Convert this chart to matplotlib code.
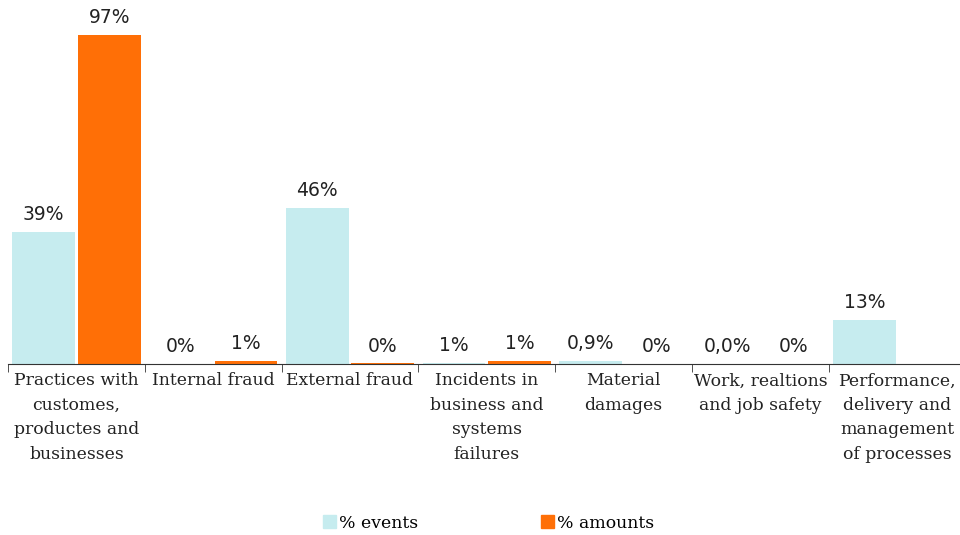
import numpy as np
import matplotlib.pyplot as plt
from matplotlib.patches import Patch

categories = [
    "Practices with\ncustomes,\nproductes and\nbusinesses",
    "Internal fraud",
    "External fraud",
    "Incidents in\nbusiness and\nsystems\nfailures",
    "Material\ndamages",
    "Work, realtions\nand job safety",
    "Performance,\ndelivery and\nmanagement\nof processes",
]
events = [39, 0, 46, 0.4, 0.9, 0.0, 13]
events_labels = ["39%", "0%", "46%", "1%", "0,9%", "0,0%", "13%"]
amounts = [97, 1, 0.2, 1, 0, 0, np.nan]
amounts_labels = ["97%", "1%", "0%", "1%", "0%", "0%", ""]

c_events = "#c6ecef"
c_amounts = "#ff6f06"

fig = plt.figure(figsize=(9.6, 5.35), dpi=100)
ax = fig.add_axes([8 / 960, 0.3196, 957.6 / 960, 0.9537 - 0.3196])

x = np.arange(len(categories))
w = 0.46
ax.bar(x + 0.26, events, width=w, color=c_events)
ax.bar(x + 0.74, amounts, width=w, color=c_amounts)

# value labels above each bar
for i in range(len(categories)):
    ax.annotate(events_labels[i], (x[i] + 0.26, events[i]), xytext=(0, 5.5),
                textcoords="offset points", ha="center", va="bottom",
                fontsize=13.5, color="#222222")
    if amounts_labels[i]:
        ax.annotate(amounts_labels[i], (x[i] + 0.74, amounts[i]), xytext=(0, 5.5),
                    textcoords="offset points", ha="center", va="bottom",
                    fontsize=13.5, color="#222222")

ax.set_xlim(0, len(categories))
ax.set_ylim(0, 100)
ax.set_yticks([])
for s in ["top", "right", "left"]:
    ax.spines[s].set_visible(False)
ax.spines["bottom"].set_color("#333333")

ax.set_xticks(x + 0.5)
ax.set_xticklabels(categories, family="DejaVu Serif", fontsize=12.4,
                   linespacing=1.58, color="#222222", va="top")
ax.tick_params(axis="x", which="major", length=0, pad=6)
ax.set_xticks(x, minor=True)
ax.tick_params(axis="x", which="minor", length=6, color="#333333")

handles = [Patch(color=c_events, label="% events"),
           Patch(color=c_amounts, label="% amounts")]
fig.legend(handles=handles, loc="center", bbox_to_anchor=(0.509, 0.022),
           ncol=2, frameon=False, handlelength=0.75, handleheight=0.75,
           handletextpad=0.2, columnspacing=7.1,
           prop={"family": "DejaVu Serif", "size": 12.4})

fig.savefig("out.png", dpi=100)
